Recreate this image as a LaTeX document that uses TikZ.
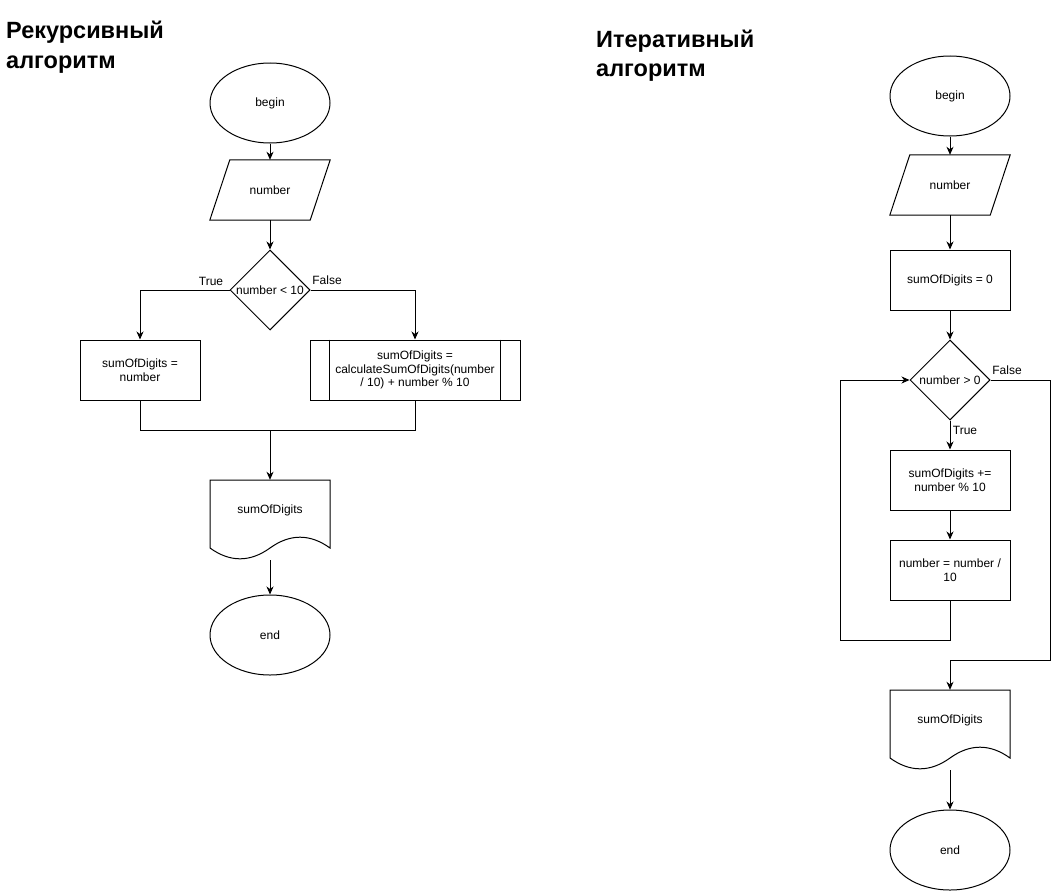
\documentclass[tikz,border=0pt]{standalone}
\usepackage{fontspec}
\setmainfont{Liberation Sans}
\usetikzlibrary{shapes.geometric,arrows.meta}
\begin{document}
\begin{tikzpicture}[x=1pt,y=-1pt,
  every node/.style={font=\fontsize{12}{13.5}\selectfont, align=center},
  ln/.style={line width=1pt},
  arr/.style={ln,-{Stealth[length=8pt,width=7pt,inset=2.5pt]}},
  term/.style={ellipse,draw,line width=1pt,minimum width=120pt,minimum height=80pt,inner sep=0pt},
  proc/.style={rectangle,draw,line width=1pt,minimum width=120pt,minimum height=60pt,inner sep=0pt},
  dec/.style={diamond,draw,line width=1pt,minimum width=80pt,minimum height=80pt,inner sep=0pt},
  frame/.style={rectangle,minimum width=120pt,minimum height=60pt,inner sep=0pt},
  title/.style={font=\fontsize{23.5}{28}\selectfont\bfseries, anchor=base west, inner sep=0pt},
  lbl/.style={font=\fontsize{12}{14}\selectfont}
]
\useasboundingbox (0,0) rectangle (1059,891);

% titles
\node[title] (t1a) at (6,39) {Рекурсивный};
\node[title] (t1b) at (6,68) {алгоритм};
\node[title] (t2a) at (596,48) {Итеративный};
\node[title] (t2b) at (596,77) {алгоритм};

% ---------- left: recursive ----------
\node[term] (lbegin) at (270,103) {begin};
\node[frame] (lnum) at (270,190) {number};
\draw[ln] ([xshift=20pt]lnum.north west) -- (lnum.north east) -- ([xshift=-20pt]lnum.south east) -- (lnum.south west) -- cycle;
\node[dec] (ldec) at (270,290) {};
\node at (ldec.center) {number < 10};
\node[proc] (lbox) at (140,370) {sumOfDigits =\\number};
\node[proc, minimum width=210pt] (lsub) at (415,370) {sumOfDigits =\\calculateSumOfDigits(number\\/ 10) + number \% 10};
\draw[ln] ([xshift=20pt]lsub.north west) -- ([xshift=20pt]lsub.south west);
\draw[ln] ([xshift=-20pt]lsub.north east) -- ([xshift=-20pt]lsub.south east);
\node[frame, minimum height=80pt] (ldoc) at (270,520) {};
\node at (270,510) {sumOfDigits};
\draw[ln] (210,480) -- (330,480) -- (330,548) .. controls (310,533.6) and (290,533.6) .. (270,548)
  .. controls (250,562.4) and (230,562.4) .. (210,548) -- cycle;
\node[term] (lend) at (270,635) {end};

\coordinate (lm) at (270,430);
\draw[arr] (lbegin.south) -- (lnum.north);
\draw[arr] (lnum.south) -- (ldec.north);
\draw[arr] (ldec.west) -| (lbox.north);
\draw[arr] (ldec.east) -| (lsub.north);
\node[lbl] (ltrue) at (211,281) {True};
\node[lbl] (lfalse) at (327,280) {False};
\draw[ln] (lbox.south) |- (lsub.south |- lm) -- (lsub.south);
\draw[arr] (lm) -- (ldoc.north);
\draw[arr] (ldoc.south) -- (lend.north);

% ---------- right: iterative ----------
\node[term] (rbegin) at (950,96) {begin};
\node[frame] (rnum) at (950,185) {number};
\draw[ln] ([xshift=20pt]rnum.north west) -- (rnum.north east) -- ([xshift=-20pt]rnum.south east) -- (rnum.south west) -- cycle;
\node[proc] (rinit) at (950,280) {sumOfDigits = 0};
\node[dec] (rdec) at (950,380) {};
\node at (rdec.center) {number > 0};
\node[proc] (rb1) at (950,480) {sumOfDigits +=\\number \% 10};
\node[proc] (rb2) at (950,570) {number = number /\\10};
\node[frame, minimum height=80pt] (rdoc) at (950,730) {};
\node at (950,720) {sumOfDigits};
\draw[ln] (890,690) -- (1010,690) -- (1010,758) .. controls (990,743.6) and (970,743.6) .. (950,758)
  .. controls (930,772.4) and (910,772.4) .. (890,758) -- cycle;
\node[term] (rend) at (950,850) {end};

\draw[arr] (rbegin.south) -- (rnum.north);
\draw[arr] (rnum.south) -- (rinit.north);
\draw[arr] (rinit.south) -- (rdec.north);
\draw[arr] (rdec.south) -- (rb1.north);
\draw[arr] (rb1.south) -- (rb2.north);
\coordinate (rlA) at (950,640);
\coordinate (rlB) at (840,640);
\draw[arr] (rb2.south) -- (rlA) -- (rlB) |- (rdec.west);
\coordinate (rfA) at (1050,660);
\draw[arr] (rdec.east) -| (rfA) -| (rdoc.north);
\node[lbl] (rtrue) at (965,430) {True};
\node[lbl] (rfalse) at (1007,370) {False};
\draw[arr] (rdoc.south) -- (rend.north);
\end{tikzpicture}
\end{document}
